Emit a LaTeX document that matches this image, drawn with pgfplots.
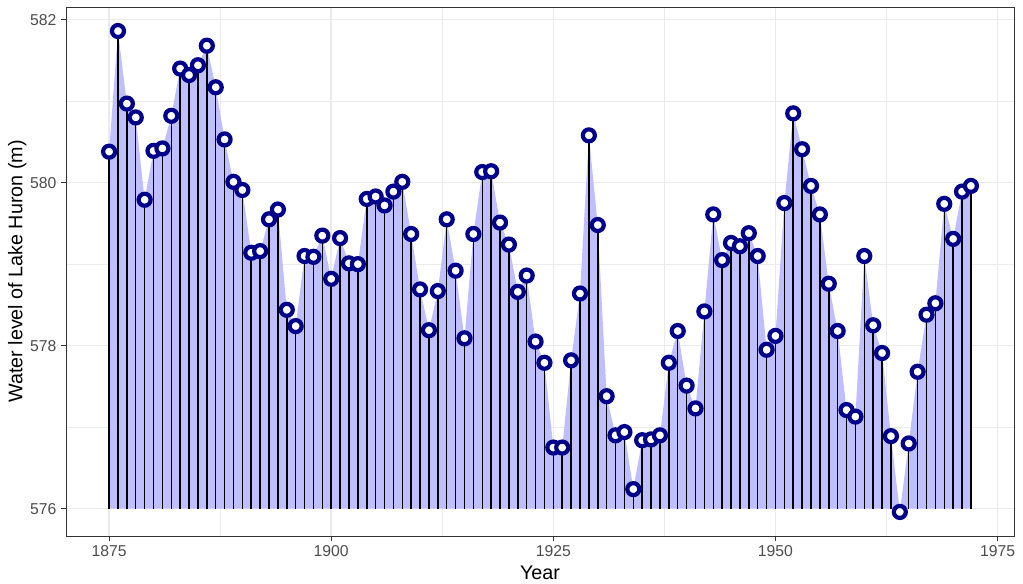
\documentclass[border=0pt]{standalone}
\usepackage{pgfplots}
\pgfplotsset{compat=1.18}
\usepackage{pgfplotstable}
\usepackage{fontspec}
\setmainfont{Liberation Sans}
\definecolor{gridc}{HTML}{EBEBEB}
\definecolor{tickc}{HTML}{333333}
\definecolor{labc}{HTML}{4D4D4D}
\definecolor{areac}{HTML}{BFBFFF}
\definecolor{ptc}{HTML}{00008B}
\pgfplotstableread{
year level
1875 580.38
1876 581.86
1877 580.97
1878 580.80
1879 579.79
1880 580.39
1881 580.42
1882 580.82
1883 581.40
1884 581.32
1885 581.44
1886 581.68
1887 581.17
1888 580.53
1889 580.01
1890 579.91
1891 579.14
1892 579.16
1893 579.55
1894 579.67
1895 578.44
1896 578.24
1897 579.10
1898 579.09
1899 579.35
1900 578.82
1901 579.32
1902 579.01
1903 579.00
1904 579.80
1905 579.83
1906 579.72
1907 579.89
1908 580.01
1909 579.37
1910 578.69
1911 578.19
1912 578.67
1913 579.55
1914 578.92
1915 578.09
1916 579.37
1917 580.13
1918 580.14
1919 579.51
1920 579.24
1921 578.66
1922 578.86
1923 578.05
1924 577.79
1925 576.75
1926 576.75
1927 577.82
1928 578.64
1929 580.58
1930 579.48
1931 577.38
1932 576.90
1933 576.94
1934 576.24
1935 576.84
1936 576.85
1937 576.90
1938 577.79
1939 578.18
1940 577.51
1941 577.23
1942 578.42
1943 579.61
1944 579.05
1945 579.26
1946 579.22
1947 579.38
1948 579.10
1949 577.95
1950 578.12
1951 579.75
1952 580.85
1953 580.41
1954 579.96
1955 579.61
1956 578.76
1957 578.18
1958 577.21
1959 577.13
1960 579.10
1961 578.25
1962 577.91
1963 576.89
1964 575.96
1965 576.80
1966 577.68
1967 578.38
1968 578.52
1969 579.74
1970 579.31
1971 579.89
1972 579.96
}\lake
\begin{document}
\begin{tikzpicture}
\useasboundingbox (-66bp,-48bp) rectangle (957bp,536bp);
\begin{axis}[
  at={(0,0)}, anchor=south west,
  width=948bp, height=529bp, scale only axis,
  xmin=1870.15, xmax=1976.85,
  ymin=-0.335, ymax=6.155,
  xtick={1875,1900,1925,1950,1975},
  ytick={0,2,4,6},
  yticklabels={576,578,580,582},
  minor xtick={1887.5,1912.5,1937.5,1962.5},
  minor ytick={1,3,5},
  grid=both,
  major grid style={gridc, line width=1.6bp},
  minor grid style={gridc, line width=0.8bp},
  axis line style={tickc, line width=0.9bp},
  tick style={tickc, line width=0.9bp},
  major tick length=5bp, minor tick length=0pt,
  tick align=outside,
  xtick pos=bottom, ytick pos=left,
  ticklabel style={font=\fontsize{15.8}{18}\selectfont, text=labc},
  /pgf/number format/assume math mode=true,
  /pgf/number format/1000 sep={},
  xticklabel style={yshift=-1bp},
  yticklabel style={xshift=-1bp},
  xlabel={Year}, ylabel={Water level of Lake Huron (m)},
  label style={font=\fontsize{19.8}{22}\selectfont, text=black},
  xlabel style={yshift=-2bp},
  ylabel style={yshift=-3bp},
]
\addplot[draw=none, fill=areac, mark=none] table[x=year, y expr=\thisrow{level}-576]{\lake} \closedcycle;
\addplot[ycomb, black, line width=1.5bp, mark=none] table[x=year, y expr=\thisrow{level}-576]{\lake};
\addplot[only marks, mark=*, mark size=6bp, mark options={draw=ptc, fill=white, line width=4.2bp}] table[x=year, y expr=\thisrow{level}-576]{\lake};
\end{axis}
\end{tikzpicture}
\end{document}
